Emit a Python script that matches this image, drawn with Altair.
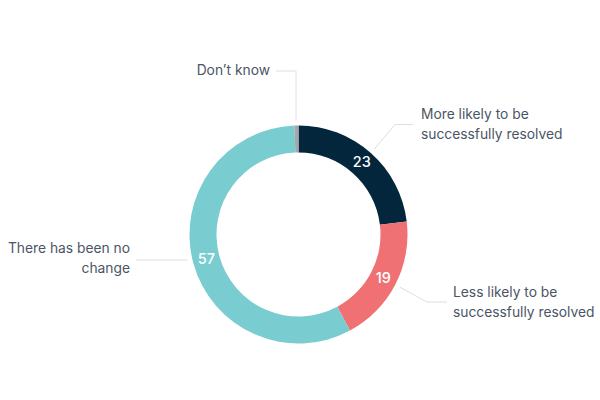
import math
import altair as alt
import pandas as pd

# ---- data ----
categories = [
    "More likely to be successfully resolved",
    "Less likely to be successfully resolved",
    "There has been no change",
    "Don't know",
]
values = [23, 19, 57, 0.6]
label_lines = [
    "More likely to be\nsuccessfully resolved",
    "Less likely to be\nsuccessfully resolved",
    "There has been no\nchange",
    "Don’t know",
]
show_inner = [True, True, True, False]
colors = ["#03263d", "#f07174", "#79cdd0", "#a3a7ab"]

# ---- layout (style/positions, not data) ----
CX, CY = 298.5, 234.5
R_OUT, R_IN = 109, 82
R_INNER_LABEL = 95.5
R_CONN = 114
TEXT_COLOR = "#4b5565"
LINE_COLOR = "#d9dee6"
FONT = "Inter"
# per slice: label anchor (first line centre), alignment, connector bend and end, connector mode
label_layout = [
    dict(lx=421, ly=115, align="left", bend=(395, 124.5), end=(413, 124.5), mode="mid"),
    dict(lx=453, ly=292.5, align="left", bend=(427, 302), end=(447, 302), mode="mid"),
    dict(lx=130, ly=248.5, align="right", bend=(186, 260), end=(136, 260), mode="horizontal"),
    dict(lx=270, ly=71, align="right", bend=(296, 71), end=(276, 71), mode="vertical"),
]

total = sum(values)
df = pd.DataFrame({
    "category": categories,
    "value": values,
    "order": list(range(len(values))),
    "inner": [str(v) if s else "" for v, s in zip(values, show_inner)],
})

# connector geometry derived from slice mid-angles
conn_rows = []
lab_rows = []
cum = 0
for i, (cat, v) in enumerate(zip(categories, values)):
    mid = (cum + v / 2) / total * 2 * math.pi
    cum += v
    L = label_layout[i]
    if L["mode"] == "mid":
        sx = CX + R_CONN * math.sin(mid)
        sy = CY - R_CONN * math.cos(mid)
    elif L["mode"] == "horizontal":
        dy = L["bend"][1] - CY
        sgn = 1 if math.sin(mid) >= 0 else -1
        sx = CX + sgn * math.sqrt(R_CONN ** 2 - dy ** 2)
        sy = L["bend"][1]
    else:
        dx = L["bend"][0] - CX
        sx = L["bend"][0]
        sy = CY - math.sqrt(R_CONN ** 2 - dx ** 2)
    pts = [(sx, sy), L["bend"], L["end"]]
    for k, (px, py) in enumerate(pts):
        conn_rows.append({"category": cat, "k": k, "px": px, "py": py})
    lab_rows.append({"category": cat, "text": label_lines[i], "px": L["lx"], "py": L["ly"], "align": L["align"]})

conn_df = pd.DataFrame(conn_rows)
lab_df = pd.DataFrame(lab_rows)

color_scale = alt.Scale(domain=categories, range=colors)

base = alt.Chart(df)
arcs = base.mark_arc(outerRadius=R_OUT, innerRadius=R_IN).encode(
    theta=alt.Theta("value:Q", stack=True),
    color=alt.Color("category:N", scale=color_scale, legend=None),
    order=alt.Order("order:Q"),
    x=alt.value(CX),
    y=alt.value(CY),
)
inner = base.mark_text(radius=R_INNER_LABEL, color="white", fontSize=14.5, font=FONT, fontWeight=500).encode(
    theta=alt.Theta("value:Q", stack=True),
    order=alt.Order("order:Q"),
    text="inner:N",
    x=alt.value(CX),
    y=alt.value(CY),
)
lines = alt.Chart(conn_df).mark_line(color=LINE_COLOR, strokeWidth=1).encode(
    x=alt.X("px:Q", scale=None, axis=None),
    y=alt.Y("py:Q", scale=None, axis=None),
    detail="category:N",
    order="k:Q",
)
text_style = dict(baseline="middle", fontSize=13.8, font=FONT, color=TEXT_COLOR, lineBreak="\n", lineHeight=20)
lab_left = alt.Chart(lab_df).transform_filter(alt.datum.align == "left").mark_text(
    align="left", **text_style
).encode(
    x=alt.X("px:Q", scale=None, axis=None),
    y=alt.Y("py:Q", scale=None, axis=None),
    text="text:N",
)
lab_right = alt.Chart(lab_df).transform_filter(alt.datum.align == "right").mark_text(
    align="right", **text_style
).encode(
    x=alt.X("px:Q", scale=None, axis=None),
    y=alt.Y("py:Q", scale=None, axis=None),
    text="text:N",
)

chart = alt.layer(lines, arcs, inner, lab_left, lab_right).properties(
    width=600, height=400, autosize="none", padding=0
).configure_view(stroke=None)

chart.save("out.html", embed_options={"renderer": "svg", "actions": False})
